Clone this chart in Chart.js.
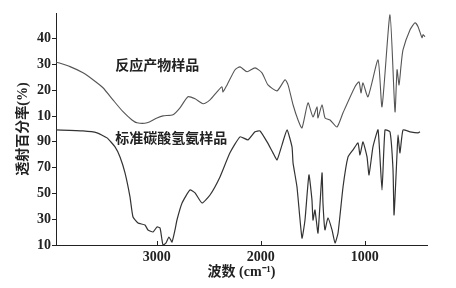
<!DOCTYPE html>
<html>
<head>
<meta charset="utf-8">
<script src="https://cdn.jsdelivr.net/npm/chart.js@4.4.0/dist/chart.umd.min.js"></script>
<style>
  html, body { margin: 0; padding: 0; background: #fff; }
  #wrap { width: 456px; height: 288px; }
</style>
</head>
<body>
<div id="wrap"><canvas id="chart"></canvas></div>
<script>
// spectra: wavenumber (cm-1) and transmittance (%)
const productWavenumber = [3970, 3835, 3710, 3614, 3518, 3422, 3325, 3239, 3190, 3094, 2998, 2940, 2844, 2777,
  2700, 2632, 2555, 2488, 2421, 2373, 2363, 2324, 2247, 2199, 2132, 2055, 1988, 1930, 1843, 1766, 1737, 1689,
  1641, 1603, 1545, 1497, 1458, 1449, 1410, 1381, 1333, 1266, 1208, 1093, 1054, 1035, 1016, 968, 871, 833,
  756, 708, 688, 669, 650, 631, 563, 515, 486, 448, 438, 419];
const productTransmit = [31.0, 29.2, 26.8, 24.1, 21.0, 16.3, 11.7, 8.5, 7.4, 7.4, 9.3, 10.1, 10.5, 13.2,
  17.5, 16.7, 14.8, 16.3, 19.4, 21.4, 19.4, 22.1, 28.0, 29.1, 27.2, 28.7, 26.8, 22.1, 19.8, 24.1, 22.1, 14.4,
  8.5, 5.4, 15.1, 9.7, 13.6, 9.3, 14.4, 9.3, 8.5, 5.8, 11.3, 21.4, 23.3, 19.0, 22.9, 17.5, 31.8, 13.6,
  49.3, 11.7, 28.0, 22.1, 29.5, 35.7, 43.5, 46.2, 44.7, 40.4, 41.6, 40.8];

const standardWavenumber = [3970, 3710, 3575, 3479, 3402, 3354, 3306, 3258, 3229, 3181, 3114, 3085, 3036, 2998,
  2969, 2950, 2940, 2911, 2883, 2854, 2825, 2806, 2757, 2681, 2632, 2565, 2488, 2392, 2296, 2199, 2122, 2055,
  2007, 1939, 1882, 1843, 1795, 1747, 1699, 1689, 1651, 1603, 1574, 1536, 1507, 1497, 1478, 1449, 1410, 1401,
  1382, 1353, 1314, 1285, 1256, 1208, 1160, 1112, 1064, 1045, 1016, 977, 958, 920, 871, 833, 804, 756,
  727, 717, 688, 679, 660, 631, 563, 486, 467];
const standardTransmit = [99.3, 98.5, 97.0, 93.1, 86.1, 78.3, 65.9, 47.3, 31.7, 27.1, 25.5, 21.7, 20.1, 24.0,
  23.2, 13.9, 10.0, 11.6, 16.2, 12.3, 21.7, 29.4, 42.6, 52.7, 50.4, 42.6, 48.8, 62.8, 81.5, 93.9, 91.6, 97.8,
  98.5, 90.0, 81.5, 76.0, 87.7, 99.3, 86.1, 73.7, 55.0, 15.4, 29.4, 64.4, 45.0, 29.4, 37.2, 19.3, 65.9, 42.6,
  21.7, 31.0, 21.7, 11.6, 19.3, 55.0, 78.3, 83.8, 89.2, 79.9, 90.0, 78.3, 64.4, 86.1, 99.3, 52.7, 99.3, 97.8,
  68.3, 33.3, 81.5, 95.4, 81.5, 99.3, 97.8, 97.0, 97.8];

const xTickValues = [3000, 2000, 1000];
const yTickLabels = ['10', '30', '50', '70', '90', '10', '20', '30', '40'];
const curveNames = ['反应产物样品', '标准碳酸氢氨样品'];

// both spectra share one axis: lower band 10..90% (20 per step), upper band 10..40% (10 per step)
function productToAxis(t) { return 4 + t / 10 }
function standardToAxis(t) { return (t - 10) / 20 }

const productLabelAt = [3400, 30];
const standardLabelAt = [3400, 93];

const ink = '#222';
const serif = "'Liberation Serif', 'Noto Sans CJK SC', serif";

const extras = {
  id: 'extras',
  afterDraw(chart) {
    const ctx = chart.ctx, xs = chart.scales.x, ys = chart.scales.y;
    ctx.save();
    // short inward ticks on the wavenumber axis
    ctx.strokeStyle = ink;
    ctx.lineWidth = 1;
    xTickValues.forEach(function (v) {
      const px = Math.round(xs.getPixelForValue(v)) + 0.5;
      ctx.beginPath();
      ctx.moveTo(px, ys.bottom);
      ctx.lineTo(px, ys.bottom - 4);
      ctx.stroke();
    });
    ctx.fillStyle = ink;
    ctx.font = "bold 14px 'Noto Sans CJK SC'";
    ctx.textBaseline = 'middle';
    ctx.fillText(curveNames[0], xs.getPixelForValue(productLabelAt[0]), ys.getPixelForValue(productToAxis(productLabelAt[1])));
    ctx.fillText(curveNames[1], xs.getPixelForValue(standardLabelAt[0]), ys.getPixelForValue(standardToAxis(standardLabelAt[1])));
    ctx.restore();
  }
};

new Chart(document.getElementById('chart'), {
  type: 'line',
  data: {
    datasets: [
      {
        label: curveNames[0],
        data: productWavenumber.map((w, i) => ({ x: w, y: productToAxis(productTransmit[i]) })),
        borderColor: '#555',
        borderWidth: 1.1,
        pointRadius: 0,
        tension: 0.2
      },
      {
        label: curveNames[1],
        data: standardWavenumber.map((w, i) => ({ x: w, y: standardToAxis(standardTransmit[i]) })),
        borderColor: '#333',
        borderWidth: 1.2,
        pointRadius: 0,
        tension: 0.15
      }
    ]
  },
  options: {
    responsive: true,
    maintainAspectRatio: false,
    animation: false,
    layout: { padding: { top: 13, right: 29, left: 0, bottom: 0 } },
    plugins: { legend: { display: false }, tooltip: { enabled: false } },
    scales: {
      x: {
        type: 'linear',
        reverse: true,
        min: 400,
        max: 3970,
        afterBuildTicks: s => { s.ticks = xTickValues.map(v => ({ value: v })) },
        afterFit: s => { s.height = 43 },
        border: { color: ink, width: 1 },
        grid: { drawOnChartArea: false, drawTicks: false },
        ticks: {
          color: ink,
          padding: 4,
          maxRotation: 0,
          font: { family: serif, size: 14, weight: 'bold' },
          callback: v => String(v)
        },
        title: {
          display: true,
          text: '波数 (cm⁻¹)',
          color: ink,
          font: { family: serif, size: 14, weight: 'bold' },
          padding: { top: 0, bottom: 7 }
        }
      },
      y: {
        min: 0,
        max: 9,
        afterBuildTicks: s => { s.ticks = yTickLabels.map((t, i) => ({ value: i })) },
        afterFit: s => { s.width = 56 },
        border: { color: ink, width: 1 },
        grid: { drawOnChartArea: false, drawTicks: true, tickLength: 4, color: ink },
        ticks: {
          color: ink,
          padding: 1,
          font: { family: serif, size: 14, weight: 'bold' },
          callback: v => yTickLabels[v]
        },
        title: {
          display: true,
          text: '透射百分率(%)',
          color: ink,
          font: { family: serif, size: 14, weight: 'bold' },
          padding: { top: 15, bottom: 0 }
        }
      }
    }
  },
  plugins: [extras]
});
</script>
</body>
</html>
